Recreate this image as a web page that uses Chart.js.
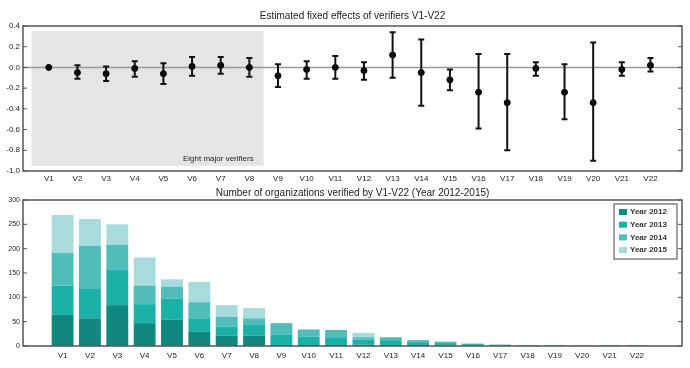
<!DOCTYPE html>
<html>
<head>
<meta charset="utf-8">
<script src="https://cdn.jsdelivr.net/npm/chart.js@4/dist/chart.umd.min.js"></script>
<style>
  html, body { margin: 0; padding: 0; background: #fff; }
  canvas { display: block; }
</style>
</head>
<body>
<canvas id="effectChart" width="690" height="185"></canvas>
<canvas id="countChart" width="690" height="183"></canvas>
<script>
/* verifier effects + organisation counts, V1-V22 */
const verifiers = ['V1','V2','V3','V4','V5','V6','V7','V8','V9','V10','V11','V12','V13','V14','V15','V16','V17','V18','V19','V20','V21','V22'];

// top panel: point estimate and interval ends (null = no bar drawn)
const effectEst  = [0.00, -0.05, -0.06, -0.01, -0.06, 0.01, 0.02, 0.00, -0.08, -0.02, 0.00, -0.03, 0.12, -0.05, -0.12, -0.24, -0.34, -0.01, -0.24, -0.34, -0.02, 0.02];
const effectHigh = [null, 0.02, 0.01, 0.06, 0.04, 0.10, 0.10, 0.09, 0.03, 0.06, 0.11, 0.05, 0.34, 0.27, -0.02, 0.13, 0.13, 0.05, 0.03, 0.24, 0.05, 0.09];
const effectLow  = [null, -0.11, -0.13, -0.09, -0.16, -0.08, -0.06, -0.09, -0.19, -0.11, -0.11, -0.12, -0.10, -0.37, -0.22, -0.59, -0.80, -0.08, -0.50, -0.90, -0.08, -0.04];

// bottom panel: organisations per year
const yearLabels = ['Year 2012', 'Year 2013', 'Year 2014', 'Year 2015'];
const year2012 = [64, 57, 84, 47, 54, 30, 21, 21, 2, 2, 2, 3, 2, 2, 1, 1, 1, 0, 0, 0, 0, 0];
const year2013 = [60, 60, 72, 39, 43, 27, 19, 22, 21, 17, 16, 10, 10, 6, 5, 3, 1, 1, 1, 1, 1, 1];
const year2014 = [67, 89, 52, 38, 25, 33, 20, 14, 24, 15, 15, 5, 6, 4, 3, 1, 1, 1, 1, 0, 1, 1];
const year2015 = [78, 55, 42, 58, 15, 42, 24, 21, 0, 0, 0, 9, 0, 0, 0, 0, 0, 0, 0, 0, 0, 0];
const yearColors = ['#10877f', '#1cb1a6', '#50bdb8', '#a9dbde'];

const FONT = '"Liberation Sans", Arial, sans-serif';
const TXT = '#222';
const AXIS = '#555';

function fixSize(w, h) {
  return function (scale) {
    if (w !== null) scale.width = w;
    if (h !== null) scale.height = h;
  };
}

// box round plot area + inward tick marks on both sides
const framePlugin = {
  id: 'frame',
  afterDatasetsDraw(chart) {
    const a = chart.chartArea, ctx = chart.ctx, ys = chart.scales.y;
    ctx.save();
    ctx.strokeStyle = AXIS;
    ctx.lineWidth = 1.5;
    ctx.strokeRect(a.left, a.top, a.right - a.left, a.bottom - a.top);
    ctx.lineWidth = 1;
    ys.ticks.forEach(t => {
      const py = ys.getPixelForValue(t.value);
      ctx.beginPath();
      ctx.moveTo(a.left, py); ctx.lineTo(a.left + 4, py);
      ctx.moveTo(a.right, py); ctx.lineTo(a.right - 4, py);
      ctx.stroke();
    });
    ctx.restore();
  }
};

// shaded block for the eight major verifiers + zero line
const shadePlugin = {
  id: 'shade',
  beforeDatasetsDraw(chart) {
    const xs = chart.scales.x, ys = chart.scales.y, ctx = chart.ctx, a = chart.chartArea;
    const x0 = xs.getPixelForValue(0.4), x1 = xs.getPixelForValue(8.5);
    const y0 = ys.getPixelForValue(0.35), y1 = ys.getPixelForValue(-0.95);
    ctx.save();
    ctx.fillStyle = '#e5e5e5';
    ctx.fillRect(x0, y0, x1 - x0, y1 - y0);
    ctx.fillStyle = TXT;
    ctx.font = '8px ' + FONT;
    ctx.textAlign = 'right';
    ctx.textBaseline = 'middle';
    ctx.fillText('Eight major verifiers', x1 - 10, ys.getPixelForValue(-0.885));
    const yz = ys.getPixelForValue(0);
    ctx.strokeStyle = '#9a9a9a';
    ctx.lineWidth = 1.5;
    ctx.beginPath();
    ctx.moveTo(a.left, yz); ctx.lineTo(a.right, yz);
    ctx.stroke();
    ctx.restore();
  }
};

const errorBarPlugin = {
  id: 'errorBars',
  afterDatasetsDraw(chart) {
    const xs = chart.scales.x, ys = chart.scales.y, ctx = chart.ctx;
    ctx.save();
    ctx.strokeStyle = '#111';
    ctx.lineWidth = 2;
    verifiers.forEach((v, i) => {
      if (effectHigh[i] === null) return;
      const px = xs.getPixelForValue(i + 1);
      const top = ys.getPixelForValue(effectHigh[i]);
      const bot = ys.getPixelForValue(effectLow[i]);
      ctx.beginPath();
      ctx.moveTo(px, top); ctx.lineTo(px, bot);
      ctx.moveTo(px - 3, top); ctx.lineTo(px + 3, top);
      ctx.moveTo(px - 3, bot); ctx.lineTo(px + 3, bot);
      ctx.stroke();
    });
    ctx.restore();
  }
};

const boxLegendPlugin = {
  id: 'boxLegend',
  afterDraw(chart) {
    const a = chart.chartArea, ctx = chart.ctx;
    const w = 63, h = 55, bx = a.right - w - 5, by = a.top + 4;
    ctx.save();
    ctx.fillStyle = '#fff';
    ctx.fillRect(bx, by, w, h);
    ctx.strokeStyle = '#444';
    ctx.lineWidth = 1;
    ctx.strokeRect(bx, by, w, h);
    ctx.font = 'bold 8px ' + FONT;
    ctx.textBaseline = 'middle';
    ctx.textAlign = 'left';
    chart.data.datasets.forEach((ds, k) => {
      const cy = by + 8 + k * 12.7;
      ctx.fillStyle = ds.backgroundColor;
      ctx.fillRect(bx + 5, cy - 3, 8, 6);
      ctx.fillStyle = '#333';
      ctx.fillText(ds.label, bx + 16, cy);
    });
    ctx.restore();
  }
};

function xAxis(height, pad) {
  return {
    type: 'linear', min: 0.1, max: 23.1,
    grid: { display: false, drawTicks: false },
    border: { display: false },
    afterBuildTicks: s => { s.ticks = verifiers.map((v, i) => ({ value: i + 1 })); },
    afterFit: fixSize(null, height),
    ticks: {
      autoSkip: false, maxRotation: 0, padding: pad,
      color: TXT, font: { family: FONT, size: 8 },
      callback: v => verifiers[v - 1] || ''
    }
  };
}

new Chart(document.getElementById('effectChart'), {
  type: 'scatter',
  data: {
    datasets: [{
      data: verifiers.map((v, i) => ({ x: i + 1, y: effectEst[i] })),
      backgroundColor: '#000', borderColor: '#000',
      pointRadius: 3, pointHoverRadius: 3
    }]
  },
  options: {
    responsive: false, animation: false,
    layout: { padding: { left: 0, right: 8, top: 0, bottom: 0 } },
    plugins: {
      legend: { display: false }, tooltip: { enabled: false },
      title: {
        display: true, fullSize: false, text: 'Estimated fixed effects of verifiers V1-V22',
        color: TXT, font: { family: FONT, size: 10, weight: 'normal' },
        padding: { top: 10, bottom: 4 }
      }
    },
    scales: {
      x: xAxis(14, 3),
      y: {
        min: -1.0, max: 0.4,
        grid: { display: false, drawTicks: false }, border: { display: false },
        afterFit: fixSize(23, null),
        ticks: { stepSize: 0.2, padding: 3, color: TXT, font: { family: FONT, size: 8 },
          callback: v => (Math.abs(v) < 1e-9 ? 0 : v).toFixed(1) }
      }
    }
  },
  plugins: [shadePlugin, errorBarPlugin, framePlugin]
});

const yearSeries = [year2012, year2013, year2014, year2015];

new Chart(document.getElementById('countChart'), {
  type: 'bar',
  data: {
    datasets: yearSeries.map((vals, k) => ({
      label: yearLabels[k],
      data: vals.map((v, i) => ({ x: i + 1, y: v })),
      backgroundColor: yearColors[k],
      borderWidth: 0,
      categoryPercentage: 1, barPercentage: 0.8
    }))
  },
  options: {
    responsive: false, animation: false,
    layout: { padding: { left: 0, right: 8, top: 0, bottom: 0 } },
    plugins: {
      legend: { display: false }, tooltip: { enabled: false },
      title: {
        display: true, fullSize: false, text: 'Number of organizations verified by V1-V22 (Year 2012-2015)',
        color: TXT, font: { family: FONT, size: 10, weight: 'normal' },
        padding: { top: 2, bottom: 1 }
      }
    },
    scales: {
      x: Object.assign(xAxis(22, 5), { stacked: true }),
      y: {
        stacked: true, min: 0, max: 300,
        grid: { display: false, drawTicks: false }, border: { display: false },
        afterFit: fixSize(23, null),
        ticks: { stepSize: 50, padding: 3, color: TXT, font: { family: FONT, size: 7 } }
      }
    }
  },
  plugins: [framePlugin, boxLegendPlugin]
});
</script>
</body>
</html>
